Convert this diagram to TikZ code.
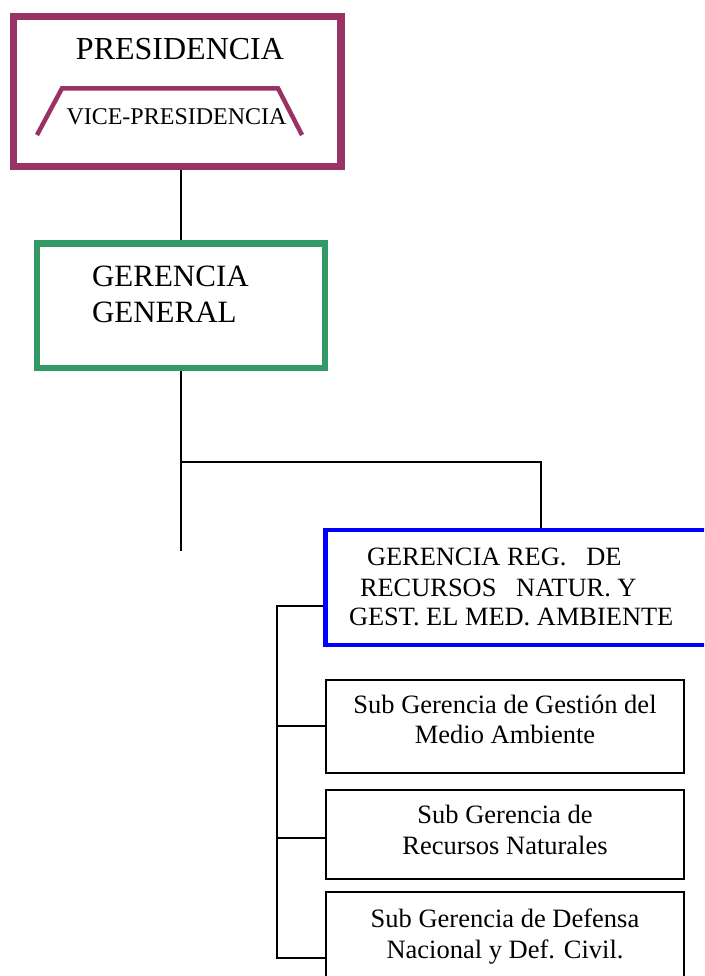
\documentclass[tikz,border=0pt]{standalone}
\usepackage{fontspec}
\setmainfont{Liberation Serif}
\definecolor{plum}{HTML}{993366}
\definecolor{sea}{HTML}{339966}
\definecolor{pureblue}{HTML}{0000FF}
\tikzset{
  box/.style={draw, rectangle, inner sep=0pt, fill=white},
  txt/.style={inner sep=0pt, outer sep=0pt},
  conn/.style={draw=black, line width=1.8pt},
  mainconn/.style={draw=black, line width=2.3pt},
}
\begin{document}
\begin{tikzpicture}[x=1pt,y=-1pt]
\clip (0,0) rectangle (704,976);
\fill[white] (0,0) rectangle (704,976);
% boxes
\node[box, draw=plum, line width=7.5pt, minimum width=327.5pt, minimum height=150pt] (pres) at (177.25,91.5) {};
\node[box, draw=sea, line width=6pt, minimum width=287.5pt, minimum height=124.5pt] (ger) at (180.75,305.75) {};
\node[box, draw=pureblue, line width=4.5pt, minimum width=431pt, minimum height=115pt] (reg) at (541,587.5) {};
\node[box, line width=2pt, minimum width=358pt, minimum height=93pt] (s1) at (505,726.5) {};
\node[box, line width=2pt, minimum width=358pt, minimum height=89pt] (s2) at (505,834.5) {};
\node[box, line width=2pt, minimum width=358pt, minimum height=132pt] (s3) at (505,958) {};
% trapezoid
\draw[plum, line width=4.5pt] (37,135) -- (62,88.3) -- (278,88.3) -- (302,135);
% texts
\node[txt, anchor=base, font=\fontsize{32}{38}\selectfont] (t1) at (180,59.3) {PRESIDENCIA};
\node[txt, anchor=base, font=\fontsize{24}{29}\selectfont] (t2) at (176.5,125) {VICE-PRESIDENCIA};
\node[txt, anchor=base west, font=\fontsize{31}{36}\selectfont] (g1) at (92,286) {GERENCIA};
\node[txt, anchor=base west, font=\fontsize{31}{36}\selectfont] (g2) at (92,322.7) {GENERAL};
\node[txt, anchor=base west, font=\fontsize{26.4}{30}\selectfont] (r1) at (367,565) {GERENCIA REG.~~~DE};
\node[txt, anchor=base west, font=\fontsize{26.4}{30}\selectfont] (r2) at (360,596.7) {RECURSOS~~~NATUR. Y};
\node[txt, anchor=base west, font=\fontsize{26.4}{30}\selectfont] (r3) at (349,625.7) {GEST. EL MED. AMBIENTE};
\node[txt, anchor=base, font=\fontsize{26.5}{30}\selectfont] (a1) at (505,713) {Sub Gerencia de Gestión del};
\node[txt, anchor=base, font=\fontsize{26.5}{30}\selectfont] (a2) at (505,743) {Medio Ambiente};
\node[txt, anchor=base, font=\fontsize{26.5}{30}\selectfont] (b1t) at (505,823.5) {Sub Gerencia de};
\node[txt, anchor=base, font=\fontsize{26.5}{30}\selectfont] (b2t) at (505,854) {Recursos Naturales};
\node[txt, anchor=base, font=\fontsize{26.5}{30}\selectfont] (c1t) at (505,927) {Sub Gerencia de Defensa};
\node[txt, anchor=base, font=\fontsize{26.5}{30}\selectfont] (c2t) at (505,958.5) {Nacional y Def. Civil.};
% connector coordinates
\coordinate (gend) at (180.75,550.7);
\coordinate (j) at (180.75,462.3);
\coordinate (b0) at (277,605.7);
\coordinate (bk1) at (277,726);
\coordinate (bk2) at (277,838);
% connectors
\draw[mainconn] (ger.north |- pres.south) -- (ger.north);
\draw[mainconn] (ger.south) -- (gend);
\draw[conn] (j) -| (reg.north);
\draw[conn] (reg.west |- b0) -- (b0) -- (b0 |- s3.west) -- (s3.west);
\draw[conn] (bk1) -- (s1.west |- bk1);
\draw[conn] (bk2) -- (s2.west |- bk2);
\end{tikzpicture}
\end{document}
